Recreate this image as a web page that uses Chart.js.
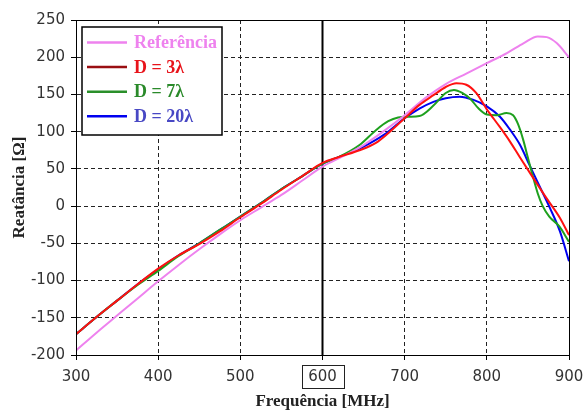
<!DOCTYPE html>
<html><head><meta charset="utf-8">
<script src="https://cdn.jsdelivr.net/npm/chart.js@4.4.0/dist/chart.umd.min.js"></script>
<style>html,body{margin:0;padding:0;background:#fff}</style>
</head><body>
<canvas id="c" width="583" height="412"></canvas>
<script>
// ---- data ----
const xTicks = [300,400,500,600,700,800,900];
const yTicks = [-200,-150,-100,-50,0,50,100,150,200,250];

const freqRef = [300,325,350,375,400,425,450,475,500,525,550,575,600,625,650,675,700,725,750,775,800,825,845,862,873,885,900];
const reatRef = [-194,-170,-147,-124,-101,-79,-58,-38,-19,-2,15,34,53,67,82,101,122,145,164,178,192,206,219,228,227,219,200];

const freq3 = [300,325,350,375,400,425,450,475,500,525,550,575,600,620,645,665,680,700,718,735,750,763,775,787,800,816,828,840,854,873,889,900];
const reat3 = [-172,-149,-127,-105,-84,-66,-51,-34,-15,3,22,40,58,66,75,85,98,118,136,149,160,165,163,152,130,106,87,66,42,10,-16,-39];

const freq7 = [300,325,350,375,400,425,450,475,500,525,550,575,600,620,645,665,680,692,705,718,735,750,760,770,780,790,800,812,824,832,838,844,850,856,862,868,876,888,900];
const reat7 = [-172,-149,-127,-106,-87,-67,-50,-32,-14,4,23,40,57,66,82,102,114,119,120,121,135,152,156,152,144,131,123,122,125,122,110,90,65,40,17,0,-14,-27,-48];

const freq20 = [300,325,350,375,400,425,450,475,500,525,550,575,600,625,650,675,700,718,735,750,767,783,800,816,828,840,852,864,877,889,900];
const reat20 = [-172,-149,-127,-105,-85,-66,-50,-32,-14,4,23,40,57,68,80,96,118,131,140,145,147,143,134,120,103,83,55,27,-3,-34,-74];

const seriesLabels = ['Referência','D = 3λ','D = 7λ','D = 20λ'];
const markedFreq = 600;

const pts = (xs, ys) => xs.map((x,i)=>({x:x, y:ys[i]}));

const frameAndMarks = {
  id:'frameAndMarks',
  beforeDatasetsDraw(chart){
    const {ctx, chartArea:a, scales:{x}} = chart;
    const px = x.getPixelForValue(markedFreq);
    ctx.save();
    ctx.strokeStyle='#000'; ctx.lineWidth=2;
    ctx.beginPath(); ctx.moveTo(px, a.top); ctx.lineTo(px, a.bottom); ctx.stroke();
    ctx.restore();
  },
  afterDraw(chart){
    const {ctx, chartArea:a, scales:{x}} = chart;
    ctx.save();
    ctx.strokeStyle='#000'; ctx.lineWidth=1;
    ctx.strokeRect(Math.round(a.left)+0.5, Math.round(a.top)+0.5, Math.round(a.right-a.left), Math.round(a.bottom-a.top));
    // box around the marked tick label
    const px = x.getPixelForValue(markedFreq);
    ctx.lineWidth=1; ctx.strokeStyle='#222';
    ctx.strokeRect(Math.round(px-21)+0.5, a.bottom+10.5, 42, 23);
    // legend
    const lx = a.left+6, ly = a.top+7, lw = 140, lh = 108;
    ctx.fillStyle='#fff'; ctx.fillRect(lx,ly,lw,lh);
    ctx.strokeStyle='#000'; ctx.lineWidth=1.5; ctx.strokeRect(lx,ly,lw,lh);
    ctx.font='bold 18px "Liberation Serif", serif';
    ctx.textBaseline='middle'; ctx.textAlign='left';
    chart.data.datasets.forEach((ds,i)=>{
      const yy = ly + 15.5 + i*24.6;
      ctx.strokeStyle = ds.legendLine; ctx.lineWidth = 2.5;
      ctx.beginPath(); ctx.moveTo(lx+5, yy); ctx.lineTo(lx+45, yy); ctx.stroke();
      ctx.fillStyle = ds.legendText;
      ctx.fillText(ds.label, lx+52, yy+1);
    });
    ctx.restore();
  }
};

const tickFont = {family:'"DejaVu Sans", Verdana, sans-serif', size:15};
const titleFont = {family:'"Liberation Serif", "Times New Roman", serif', size:17, weight:'bold'};

new Chart(document.getElementById('c'), {
  type:'line',
  data:{
    datasets:[
      {label:seriesLabels[0], data:pts(freqRef,reatRef), borderColor:'#EE82EE', legendLine:'#EE82EE', legendText:'#EE82EE', order:1},
      {label:seriesLabels[1], data:pts(freq3,reat3), borderColor:'#FF1010', legendLine:'#9A0E12', legendText:'#E8141B', order:0},
      {label:seriesLabels[2], data:pts(freq7,reat7), borderColor:'#1EA01E', legendLine:'#2A8F2A', legendText:'#2A8A2A', order:2},
      {label:seriesLabels[3], data:pts(freq20,reat20), borderColor:'#0000F0', legendLine:'#0000F0', legendText:'#4848C4', order:3}
    ]
  },
  options:{
    responsive:false, animation:false,
    layout:{padding:{top:20,right:0,left:0,bottom:0}},
    elements:{point:{radius:0}, line:{borderWidth:2, cubicInterpolationMode:'monotone', fill:false}},
    plugins:{legend:{display:false}, tooltip:{enabled:false}},
    scales:{
      x:{type:'linear', min:300, max:900,
        afterFit(s){ s.height = 57; s.paddingRight = 14; s.paddingLeft = 0; },
        afterBuildTicks(s){ s.ticks = xTicks.map(v=>({value:v})); },
        ticks:{font:tickFont, color:'#333', padding:8, maxRotation:0},
        grid:{color:'#222', tickColor:'#000', tickLength:5, tickBorderDash:[]},
        border:{color:'#000', dash:[4,3]},
        title:{display:true, text:'Frequência [MHz]', font:titleFont, color:'#222', padding:{top:0,bottom:0}}
      },
      y:{type:'linear', min:-200, max:250,
        afterFit(s){ s.width = 76; },
        afterBuildTicks(s){ s.ticks = yTicks.map(v=>({value:v})); },
        ticks:{font:tickFont, color:'#333', padding:6},
        grid:{color:'#222', tickColor:'#000', tickLength:5, tickBorderDash:[]},
        border:{color:'#000', dash:[4,3]},
        title:{display:true, text:'Reatância [Ω]', font:titleFont, color:'#222', padding:{top:9,bottom:0}}
      }
    }
  },
  plugins:[frameAndMarks]
});
</script>
</body></html>
